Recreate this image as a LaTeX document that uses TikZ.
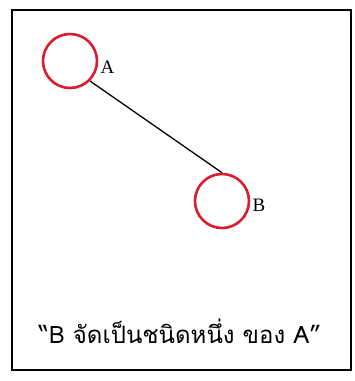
\documentclass[tikz,border=0pt]{standalone}
\usepackage{fontspec}
\setmainfont{Liberation Serif}
\newfontfamily\thaifont[Script=Thai]{Loma}
\usetikzlibrary{positioning}
\definecolor{ringred}{RGB}{218,28,48}
\tikzset{
  ring/.style={circle, draw=ringred, line width=2.6pt, minimum size=54pt, inner sep=0pt},
  lbl/.style={font=\fontsize{19}{21}\selectfont, inner sep=1pt}
}
\begin{document}
\begin{tikzpicture}[x=1pt,y=-1pt]
        \useasboundingbox (0,0) rectangle (355,381);
        %Frame
        \draw[line width=2.4pt] (12,10) rectangle (351,370);
        %Draw circles
        \node[ring] (A) at (70,61) {};
        \node[ring] (B) at (222,201) {};
        %Draw labels
        \node[lbl, right=1pt of A.east, yshift=-6pt] (lA) {A};
        \node[lbl, right=1pt of B.east, yshift=-4pt] (lB) {B};
        \node[font=\thaifont\fontsize{24}{28}\selectfont] (cap) at (180,331) {“B จัดเป็นชนิดหนึ่ง ของ A”};
        %Draw lines
        \draw[line width=1.3pt] (A.-45) -- (B.north);
\end{tikzpicture}
\end{document}
